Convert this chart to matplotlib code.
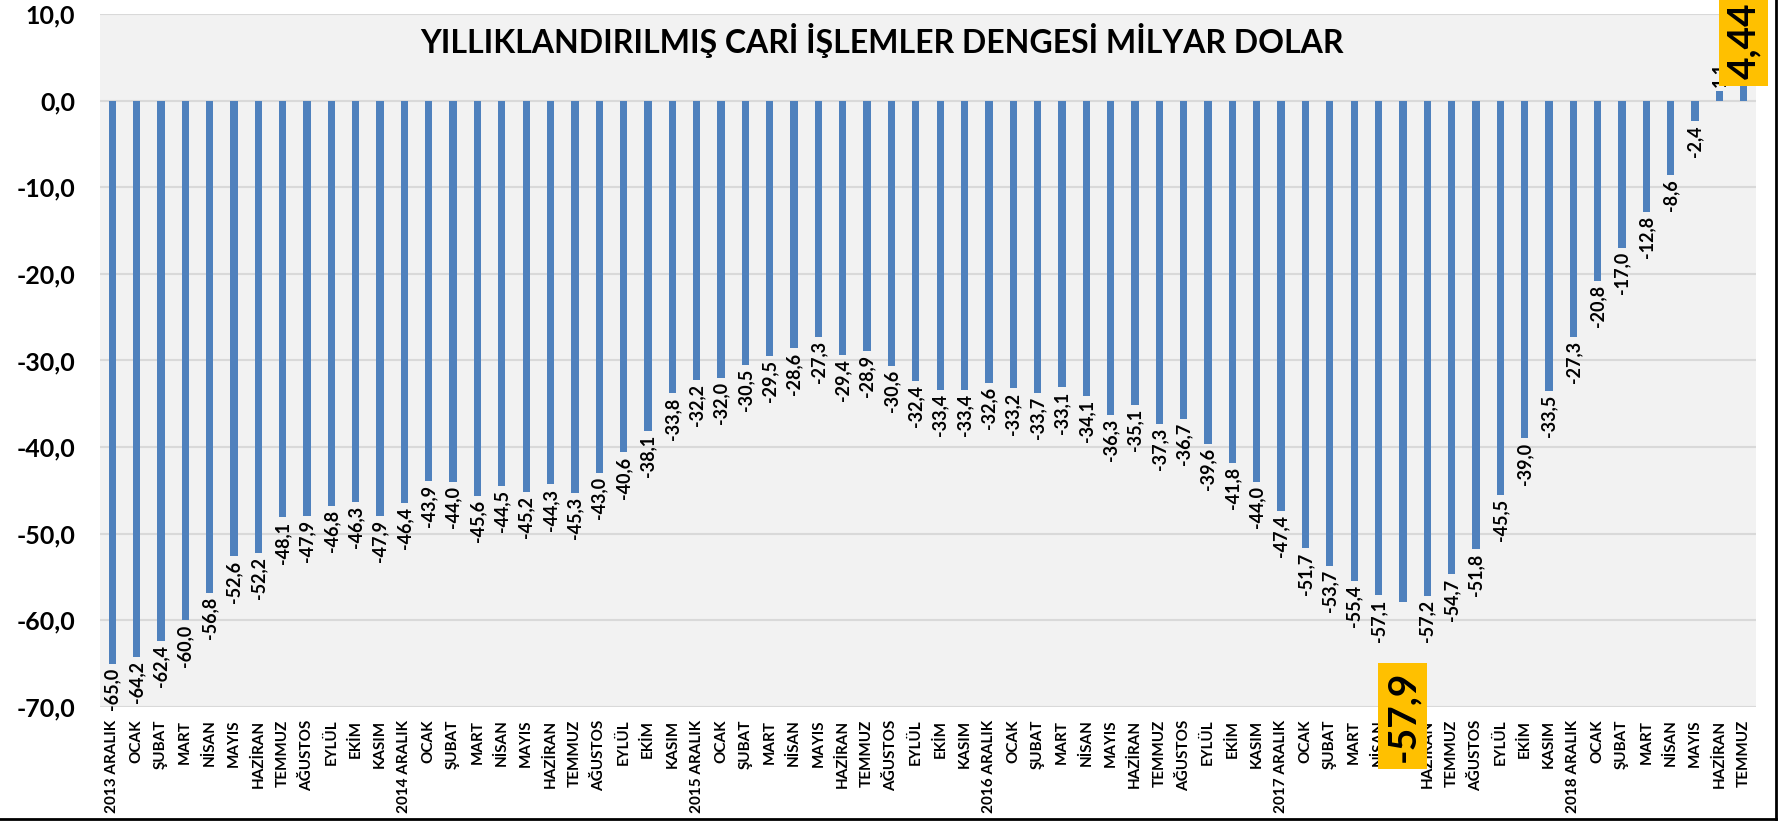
import matplotlib
matplotlib.use("Agg")
import matplotlib.pyplot as plt
from matplotlib.lines import Line2D
from matplotlib import transforms

plt.rcParams['font.family'] = ['Lato', 'DejaVu Sans']
plt.rcParams['font.weight'] = 'bold'

categories = ["2013 ARALIK", "OCAK", "ŞUBAT", "MART", "NİSAN", "MAYIS", "HAZİRAN", "TEMMUZ",
              "AĞUSTOS", "EYLÜL", "EKİM", "KASIM",
              "2014 ARALIK", "OCAK", "ŞUBAT", "MART", "NİSAN", "MAYIS", "HAZİRAN", "TEMMUZ",
              "AĞUSTOS", "EYLÜL", "EKİM", "KASIM",
              "2015 ARALIK", "OCAK", "ŞUBAT", "MART", "NİSAN", "MAYIS", "HAZİRAN", "TEMMUZ",
              "AĞUSTOS", "EYLÜL", "EKİM", "KASIM",
              "2016 ARALIK", "OCAK", "ŞUBAT", "MART", "NİSAN", "MAYIS", "HAZİRAN", "TEMMUZ",
              "AĞUSTOS", "EYLÜL", "EKİM", "KASIM",
              "2017 ARALIK", "OCAK", "ŞUBAT", "MART", "NİSAN", "MAYIS", "HAZİRAN", "TEMMUZ",
              "AĞUSTOS", "EYLÜL", "EKİM", "KASIM",
              "2018 ARALIK", "OCAK", "ŞUBAT", "MART", "NİSAN", "MAYIS", "HAZİRAN", "TEMMUZ"]

values = [-65.0, -64.2, -62.4, -60.0, -56.8, -52.6, -52.2, -48.1, -47.9, -46.8, -46.3, -47.9,
          -46.4, -43.9, -44.0, -45.6, -44.5, -45.2, -44.3, -45.3, -43.0, -40.6, -38.1, -33.8,
          -32.2, -32.0, -30.5, -29.5, -28.6, -27.3, -29.4, -28.9, -30.6, -32.4, -33.4, -33.4,
          -32.6, -33.2, -33.7, -33.1, -34.1, -36.3, -35.1, -37.3, -36.7, -39.6, -41.8, -44.0,
          -47.4, -51.7, -53.7, -55.4, -57.1, -57.9, -57.2, -54.7, -51.8, -45.5, -39.0, -33.5,
          -27.3, -20.8, -17.0, -12.8, -8.6, -2.4, 1.1, 4.44]

highlight_idx = [53, 67]
highlight_text = ["-57,9", "4,44"]

yticks = [10, 0, -10, -20, -30, -40, -50, -60, -70]
title = "YILLIKLANDIRILMIŞ CARİ İŞLEMLER DENGESİ MİLYAR DOLAR"

W, H = 1779, 821
fig = plt.figure(figsize=(W / 100, H / 100), dpi=100, facecolor='white')
ax = fig.add_axes([100 / W, 1 - 707 / H, 1656 / W, 693 / H])
ax.set_facecolor('#F2F2F2')

x = list(range(len(values)))
ax.bar(x, values, width=0.3, color='#4F81BD', zorder=2)
ax.set_xlim(-0.5, len(values) - 0.5)
ax.set_ylim(-70, 10)
ax.set_yticks(yticks)
ax.set_yticklabels([f"{v:.1f}".replace('.', ',') for v in yticks], fontsize=18, fontweight='bold')
ax.grid(axis='y', color='#D9D9D9', linewidth=1.5, zorder=0)
ax.set_xticks(x)
ax.set_xticklabels(categories, rotation=90, fontsize=11, fontweight='bold')
ax.tick_params(axis='both', length=0)
ax.tick_params(axis='y', pad=18)
ax.tick_params(axis='x', pad=9)
for s in ax.spines.values():
    s.set_visible(False)

for i, v in enumerate(values):
    if i in highlight_idx:
        continue
    lab = f"{v:.1f}".replace('.', ',')
    if v < 0:
        ax.annotate(lab, (i, v), xytext=(0, -3), textcoords='offset points', rotation=90,
                    ha='center', va='top', fontsize=13, fontweight='bold', zorder=3)
    else:
        ax.annotate(lab, (i, v), xytext=(0, 3), textcoords='offset points', rotation=90,
                    ha='center', va='bottom', fontsize=13, fontweight='bold', zorder=3)

trans = transforms.blended_transform_factory(ax.transData, ax.transAxes)
box_y = [-0.013, 0.962]
for idx, txt, by in zip(highlight_idx, highlight_text, box_y):
    ax.text(idx, by, txt, transform=trans, rotation=90, ha='center', va='center',
            fontsize=28, fontweight='bold', zorder=10, clip_on=False,
            bbox=dict(boxstyle='square,pad=0.18', facecolor='#FFC000', edgecolor='none'))

ax.text(0.472, 0.962, title, transform=ax.transAxes, ha='center', va='center',
        fontsize=23, fontweight='bold', zorder=4)

fig.add_artist(Line2D([0, 1776 / W], [1 - 819 / H, 1 - 819 / H], transform=fig.transFigure,
                      color='black', linewidth=2))
fig.add_artist(Line2D([1776 / W, 1776 / W], [1 - 819 / H, 1], transform=fig.transFigure,
                      color='black', linewidth=2))

fig.savefig('out.png', dpi=100, facecolor='white')
